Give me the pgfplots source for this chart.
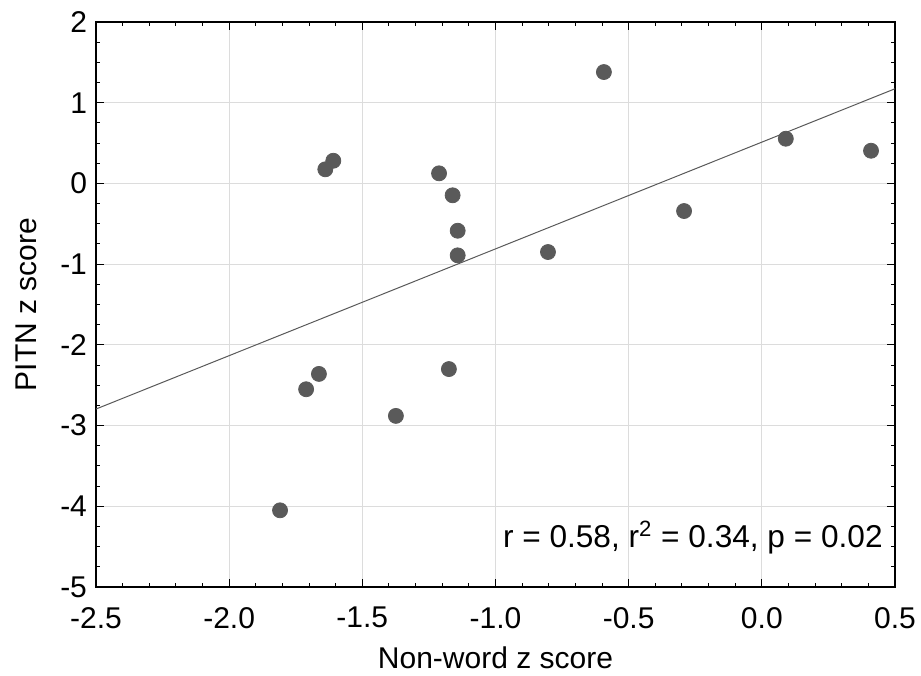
\documentclass[border=0pt]{standalone}
\usepackage{fontspec}
\setmainfont{Liberation Sans}
\usepackage{pgfplots}
\pgfplotsset{compat=1.18}

\definecolor{dotgray}{HTML}{5A5A5A}
\definecolor{gridgray}{HTML}{DCDCDC}

\begin{document}
\begin{tikzpicture}
\path[use as bounding box] (-48pt,-44pt) rectangle (412.5pt,293.5pt);
\begin{axis}[
  scale only axis,
  width=399.5pt, height=282.5pt,
  xmin=-2.5, xmax=0.5, ymin=-5, ymax=2,
  xtick={-2.5,-2,...,0.5},
  ytick={-5,-4,...,2},
  minor x tick num=4,
  minor y tick num=3,
  tick align=inside,
  major tick length=4pt,
  minor tick length=2pt,
  grid=major,
  major grid style={gridgray, line width=0.5pt},
  axis line style={black, line width=0.7pt},
  every tick/.style={black, line width=0.5pt},
  /pgf/number format/assume math mode=true,
  /pgf/number format/fixed,
  /pgf/number format/fixed zerofill,
  /pgf/number format/precision=1,
  yticklabel={\pgfmathprintnumber[fixed,precision=0,zerofill=false]{\tick}},
  ticklabel style={font=\fontsize{15}{18}\selectfont},
  xticklabel style={yshift=-6.5pt},
  yticklabel style={xshift=-1pt},
  xlabel={Non-word z score},
  ylabel={PITN z score},
  label style={font=\fontsize{15}{18}\selectfont},
  xlabel style={yshift=-4.5pt, inner sep=1pt},
  ylabel style={yshift=5pt},
]
\addplot[no marks, color=black!65, line width=0.5pt] coordinates {
  (-2.5,-2.795) (0.5,1.173)
};
\addplot[only marks, mark=*, mark size=3.75pt, color=dotgray] coordinates {
  (-0.593,1.38)
  (0.090,0.554)
  (0.410,0.405)
  (-0.292,-0.342)
  (-0.803,-0.85)
  (-1.609,0.281)
  (-1.639,0.175)
  (-1.212,0.125)
  (-1.161,-0.147)
  (-1.142,-0.586)
  (-1.142,-0.891)
  (-1.175,-2.30)
  (-1.663,-2.36)
  (-1.711,-2.55)
  (-1.374,-2.88)
  (-1.809,-4.05)
};
\node[anchor=base east, inner sep=0pt, font=\fontsize{15.8}{19}\selectfont]
  at ([xshift=-6pt, yshift=20pt]rel axis cs:1,0)
  {r = 0.58, r\textsuperscript{2} = 0.34, p = 0.02};
\end{axis}
\end{tikzpicture}
\end{document}
